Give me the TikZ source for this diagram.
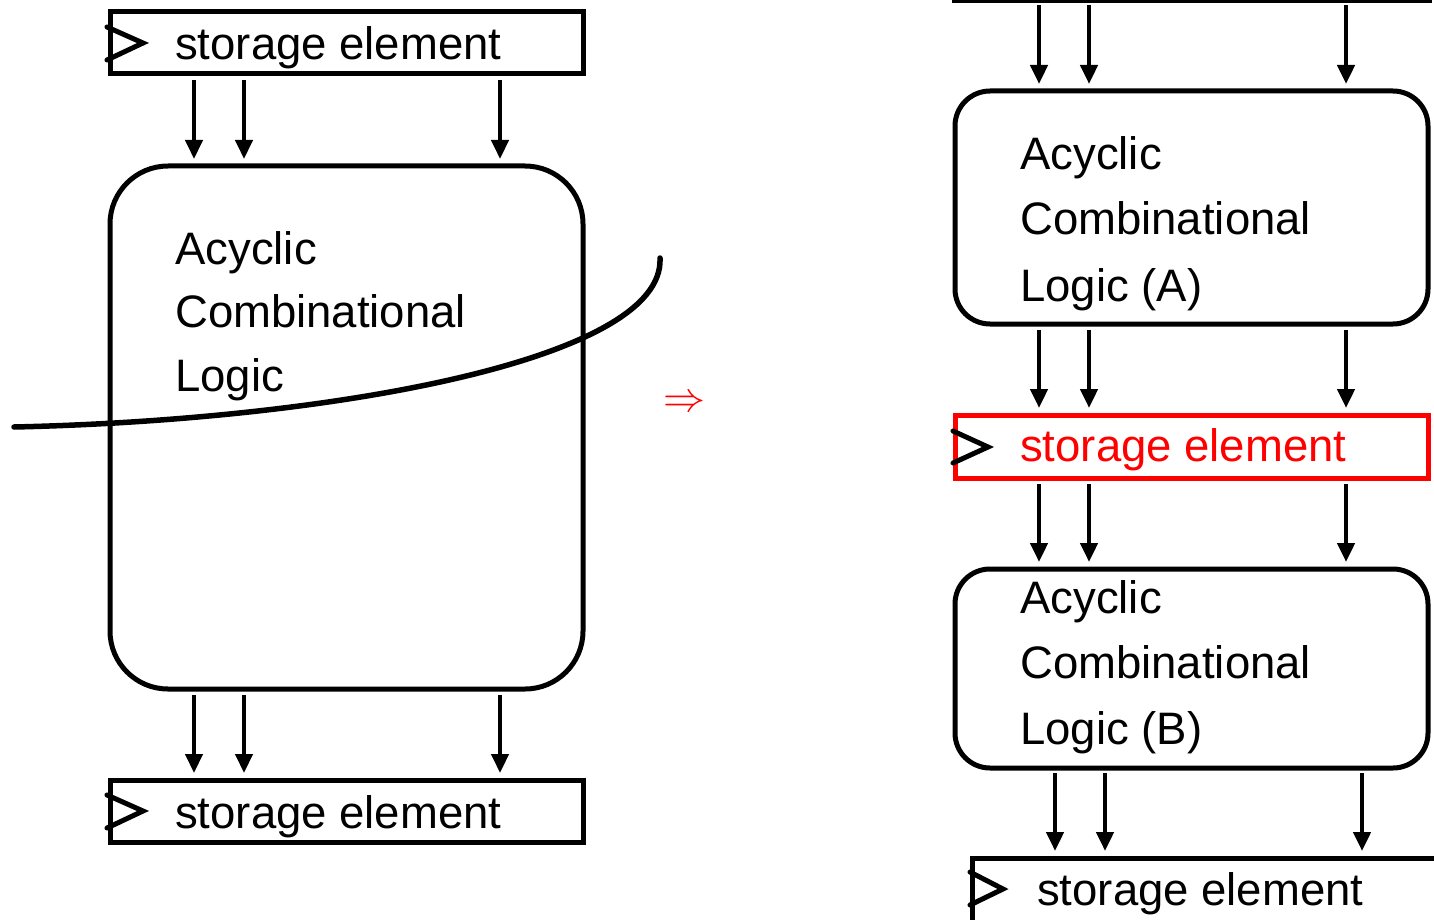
\documentclass[tikz,border=0pt]{standalone}
\usepackage{fontspec}
\setmainfont{Liberation Sans}
\usetikzlibrary{arrows.meta,calc}

\tikzset{
  box/.style={draw, line width=5pt, outer sep=0pt, inner sep=0pt, anchor=north west},
  storebox/.style={box, rectangle},
  logicbox/.style={box, rounded corners=#1},
  lbl/.style={anchor=base west, inner sep=0pt, font=\fontsize{45.5}{54}\selectfont},
  arr/.style={line width=4.5pt, -{Triangle[length=19pt,width=17pt]}},
  clock/.style={line width=5pt, line cap=round, line join=miter},
  cut/.style={line width=5.5pt, line cap=round},
}

\begin{document}
\begin{tikzpicture}[x=1pt,y=-1pt]
\useasboundingbox (0,0) rectangle (1434,920);
\clip (0,0) rectangle (1434,920);

% ---------- left: one block of logic between two registers ----------
\node[storebox, minimum width=473pt, minimum height=62pt] (s1) at (110,12) {};
\node[logicbox=58pt, minimum width=473pt, minimum height=523pt] (c1) at (110,166) {};
\node[storebox, minimum width=473pt, minimum height=62pt] (s2) at (110,780) {};

\draw[clock] ($(s1.north west)+(-3,15)$) -- ($(s1.north west)+(33,31)$) -- ($(s1.north west)+(-3,48)$);
\draw[clock] ($(s2.north west)+(-3,15)$) -- ($(s2.north west)+(33,31)$) -- ($(s2.north west)+(-3,48)$);

\node[lbl] (t1) at (175,60) {storage element};
\node[lbl] (t2) at (175,828) {storage element};
\node[lbl] (l1) at (175,264) {Acyclic};
\node[lbl] (l2) at (175,327) {Combinational};
\node[lbl] (l3) at (175,391) {Logic};

\foreach \dx in {84,134,390}{
  \draw[arr] ($(s1.south west)+(\dx,6)$) -- ($(c1.north west)+(\dx,-7)$);
  \draw[arr] ($(c1.south west)+(\dx,6)$) -- ($(s2.north west)+(\dx,-7)$);
}

% cut through the logic
\coordinate (cutA) at (14,427);
\coordinate (cutB) at (660,258);
\draw[cut] (cutA) .. controls (330,420) and (665,360) .. (cutB);

% implies
\node[text=red, inner sep=0pt, scale=4.2] (imp) at (684,404) {$\Rightarrow$};

% ---------- right: logic split by an extra register ----------
\node[storebox, minimum width=475pt, minimum height=61pt] (s3) at (954,-60) {};
\node[logicbox=35pt, minimum width=473pt, minimum height=233pt] (cA) at (955,91) {};
\node[storebox, draw=red, minimum width=473pt, minimum height=63pt] (s4) at (955,415) {};
\node[logicbox=35pt, minimum width=473pt, minimum height=199pt] (cB) at (955,569) {};
\node[storebox, minimum width=480pt, minimum height=80pt] (s5) at (972,858) {};

\draw[clock] ($(s4.north west)+(-2,16)$) -- ($(s4.north west)+(33,32)$) -- ($(s4.north west)+(-2,48)$);
\draw[clock] ($(s5.north west)+(-2,14)$) -- ($(s5.north west)+(31,31)$) -- ($(s5.north west)+(-2,47)$);

\node[lbl] (a1) at (1020,170) {Acyclic};
\node[lbl] (a2) at (1020,234) {Combinational};
\node[lbl] (a3) at (1020,301) {Logic (A)};
\node[lbl, text=red] (t4) at (1020,461) {storage element};
\node[lbl] (b1) at (1020,613) {Acyclic};
\node[lbl] (b2) at (1020,678) {Combinational};
\node[lbl] (b3) at (1020,744) {Logic (B)};
\node[lbl] (t5) at (1037,905) {storage element};

\foreach \dx in {84,134,391}{
  \draw[arr] ($(s3.south west)+(\dx+1,4)$) -- ($(cA.north west)+(\dx,-7)$);
  \draw[arr] ($(cA.south west)+(\dx,6)$) -- ($(s4.north west)+(\dx,-7)$);
  \draw[arr] ($(s4.south west)+(\dx,6)$) -- ($(cB.north west)+(\dx,-7)$);
}
\foreach \dx in {83,133,390}{
  \draw[arr] ($(cB.south west)+(\dx+17,5)$) -- ($(s5.north west)+(\dx,-7)$);
}
\end{tikzpicture}
\end{document}
